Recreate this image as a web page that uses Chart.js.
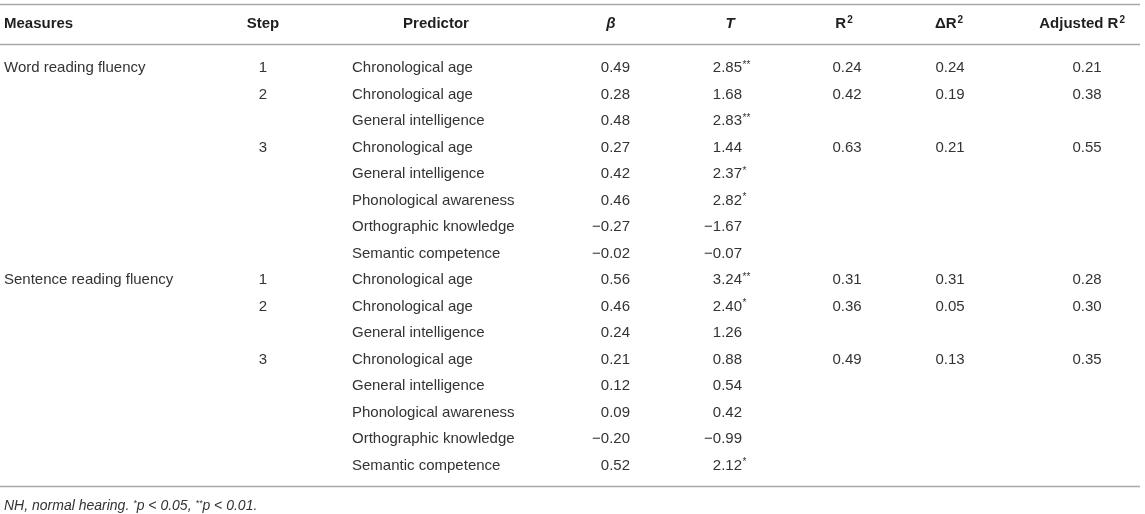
<!DOCTYPE html>
<html>
<head>
<meta charset="utf-8">
<script src="https://cdn.jsdelivr.net/npm/chart.js@4.4.0/dist/chart.umd.min.js"></script>
<style>
  html, body { margin: 0; padding: 0; background: #fff; }
  canvas { display: block; }
</style>
</head>
<body>
<canvas id="chart" width="1145" height="514"></canvas>
<script>
// Table content, one entry per row
const measures = ["Word reading fluency", "", "", "", "", "", "", "",
                  "Sentence reading fluency", "", "", "", "", "", "", ""];
const steps = ["1", "2", "", "3", "", "", "", "",
               "1", "2", "", "3", "", "", "", ""];
const predictors = [
  "Chronological age", "Chronological age", "General intelligence",
  "Chronological age", "General intelligence", "Phonological awareness",
  "Orthographic knowledge", "Semantic competence",
  "Chronological age", "Chronological age", "General intelligence",
  "Chronological age", "General intelligence", "Phonological awareness",
  "Orthographic knowledge", "Semantic competence"
];
const beta = [0.49, 0.28, 0.48, 0.27, 0.42, 0.46, -0.27, -0.02,
              0.56, 0.46, 0.24, 0.21, 0.12, 0.09, -0.20, 0.52];
const tValues = [2.85, 1.68, 2.83, 1.44, 2.37, 2.82, -1.67, -0.07,
                 3.24, 2.40, 1.26, 0.88, 0.54, 0.42, -0.99, 2.12];
const tStars = ["**", "", "**", "", "*", "*", "", "",
                "**", "*", "", "", "", "", "", "*"];
const rSquared = [0.24, 0.42, null, 0.63, null, null, null, null,
                  0.31, 0.36, null, 0.49, null, null, null, null];
const deltaR2 = [0.24, 0.19, null, 0.21, null, null, null, null,
                 0.31, 0.05, null, 0.13, null, null, null, null];
const adjustedR2 = [0.21, 0.38, null, 0.55, null, null, null, null,
                    0.28, 0.30, null, 0.35, null, null, null, null];

// Layout (pixels / row units)
const HEADER_ROW = -1.66;
const RULES = [-2.415, -0.906, 15.77];
const RULE_END = 1140;
const NOTE_ROW = 16.53;
const FONT = '"Liberation Sans", Arial, Helvetica, sans-serif';
const TEXT = "#333";
const HEAD = "#1f1f1f";

function fmt(v) {
  const s = Math.abs(v).toFixed(2);
  return v < 0 ? "\u2212" + s : s;
}

const columns = [
  { key: "measures", head: "Measures", x: 4, align: "left", hx: 4, halign: "left",
    cells: measures },
  { key: "step", head: "Step", x: 263, align: "center", hx: 263, halign: "center",
    cells: steps },
  { key: "predictor", head: "Predictor", x: 352, align: "left", hx: 436, halign: "center",
    cells: predictors },
  { key: "beta", head: "β", headStyle: "italic bold", x: 630, align: "right", hx: 611, halign: "center",
    cells: beta.map(fmt) },
  { key: "t", head: "T", headStyle: "italic bold", x: 742, align: "right", hx: 730, halign: "center",
    cells: tValues.map(fmt), stars: tStars },
  { key: "r2", head: "R", sup: "2", x: 847, align: "center", hx: 844, halign: "center",
    cells: rSquared.map(v => v == null ? "" : fmt(v)) },
  { key: "dr2", head: "ΔR", sup: "2", x: 950, align: "center", hx: 949, halign: "center",
    cells: deltaR2.map(v => v == null ? "" : fmt(v)) },
  { key: "adj", head: "Adjusted R", sup: "2", x: 1087, align: "center", hx: 1125, halign: "right",
    cells: adjustedR2.map(v => v == null ? "" : fmt(v)) }
];

const datasets = columns.map(col => ({
  label: col.key,
  col: col,
  data: col.cells
    .map((txt, i) => ({ x: col.x, y: i, text: txt, stars: col.stars ? col.stars[i] : "" }))
    .filter(p => p.text !== ""),
  pointRadius: 0
}));

// header cells as their own dataset
datasets.push({
  label: "header",
  data: columns.map(col => ({ x: col.hx, y: HEADER_ROW, col: col })),
  pointRadius: 0
});

const tablePlugin = {
  id: "tableText",
  afterDraw(chart) {
    const ctx = chart.ctx;
    const xs = chart.scales.x, ys = chart.scales.y;
    ctx.save();

    // horizontal rules
    ctx.strokeStyle = "#a9a9a9";
    ctx.lineWidth = 1.6;
    RULES.forEach(r => {
      const y = Math.round(ys.getPixelForValue(r)) + 0.5;
      ctx.beginPath();
      ctx.moveTo(xs.getPixelForValue(0), y);
      ctx.lineTo(xs.getPixelForValue(RULE_END), y);
      ctx.stroke();
    });

    ctx.textBaseline = "middle";
    chart.data.datasets.forEach((ds, di) => {
      const meta = chart.getDatasetMeta(di);
      meta.data.forEach((el, i) => {
        const p = ds.data[i];
        if (ds.label === "header") {
          drawHeader(ctx, p.col, el.x, el.y);
          return;
        }
        ctx.fillStyle = TEXT;
        ctx.font = "15px " + FONT;
        ctx.textAlign = ds.col.align;
        ctx.fillText(p.text, el.x, el.y);
        if (p.stars) {
          ctx.textAlign = "left";
          ctx.font = "10px " + FONT;
          ctx.fillText(p.stars, el.x + 0.5, el.y - 3);
        }
      });
    });

    drawNote(ctx, xs.getPixelForValue(4), ys.getPixelForValue(NOTE_ROW));
    ctx.restore();
  }
};

function drawHeader(ctx, col, x, y) {
  ctx.fillStyle = HEAD;
  const main = (col.headStyle || "bold") + " 15px " + FONT;
  const supFont = "bold 10px " + FONT;
  ctx.font = main;
  const w1 = ctx.measureText(col.head).width;
  let w2 = 0;
  if (col.sup) { ctx.font = supFont; w2 = ctx.measureText(col.sup).width + 1; }
  const total = w1 + w2;
  let left = x;
  if (col.halign === "center") left = x - total / 2;
  else if (col.halign === "right") left = x - total;
  ctx.textAlign = "left";
  ctx.font = main;
  ctx.fillText(col.head, left, y);
  if (col.sup) {
    ctx.font = supFont;
    ctx.fillText(col.sup, left + w1 + 1, y - 4);
  }
}

function drawNote(ctx, x, y) {
  const parts = [
    { t: "NH, normal hearing. ", f: "italic 14px " },
    { t: "*", f: "italic 9px ", dy: -3 },
    { t: "p < 0.05, ", f: "italic 14px " },
    { t: "**", f: "italic 9px ", dy: -3 },
    { t: "p < 0.01.", f: "italic 14px " }
  ];
  ctx.fillStyle = TEXT;
  ctx.textAlign = "left";
  let cx = x;
  parts.forEach(p => {
    ctx.font = p.f + FONT;
    ctx.fillText(p.t, cx, y + (p.dy || 0));
    cx += ctx.measureText(p.t).width;
  });
}

new Chart(document.getElementById("chart"), {
  type: "scatter",
  data: { datasets },
  options: {
    responsive: false,
    animation: false,
    devicePixelRatio: 1,
    layout: { padding: 0 },
    plugins: { legend: { display: false }, tooltip: { enabled: false } },
    scales: {
      x: { type: "linear", min: 0, max: 1145, display: false },
      y: { type: "linear", min: -68 / 26.5, max: 446 / 26.5, reverse: true, display: false }
    }
  },
  plugins: [tablePlugin]
});
</script>
</body>
</html>
